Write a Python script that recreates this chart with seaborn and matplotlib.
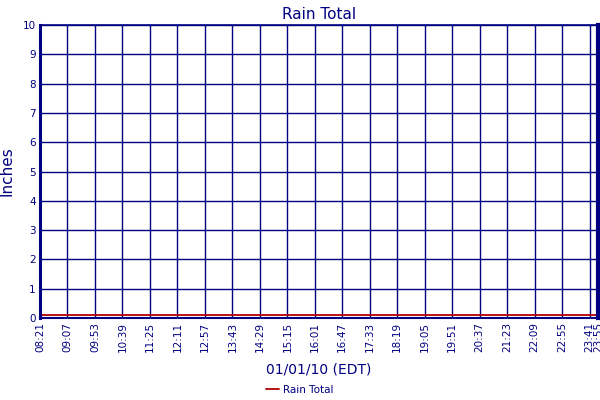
import pandas as pd
import seaborn as sns
import matplotlib.pyplot as plt
import matplotlib.dates as mdates

# data
times = ["2010-01-01 08:21", "2010-01-01 09:07", "2010-01-01 09:53", "2010-01-01 10:39",
         "2010-01-01 11:25", "2010-01-01 12:11", "2010-01-01 12:57", "2010-01-01 13:43",
         "2010-01-01 14:29", "2010-01-01 15:15", "2010-01-01 16:01", "2010-01-01 16:47",
         "2010-01-01 17:33", "2010-01-01 18:19", "2010-01-01 19:05", "2010-01-01 19:51",
         "2010-01-01 20:37", "2010-01-01 21:23", "2010-01-01 22:09", "2010-01-01 22:55",
         "2010-01-01 23:41", "2010-01-01 23:55"]
rain_total = [0.1] * len(times)
y_ticks = [0, 1, 2, 3, 4, 5, 6, 7, 8, 9, 10]

navy = "#000080"

df = pd.DataFrame({"time": pd.to_datetime(times), "Rain Total": rain_total})

sns.set_style("white")
plt.rcParams['font.family'] = ['DejaVu Sans']

fig = plt.figure(figsize=(6, 4), dpi=100)
ax = fig.add_axes([40 / 600, 82 / 400, 558 / 600, 293 / 400])

sns.lineplot(data=df, x="time", y="Rain Total", color="#b00000", linewidth=1.3,
             ax=ax, label="Rain Total", legend=False)

ax.set_xlim(df["time"].iloc[0], df["time"].iloc[-1])
ax.set_ylim(0, 10)
ax.set_yticks(y_ticks)
ax.set_xticks(df["time"])
ax.xaxis.set_major_formatter(mdates.DateFormatter("%H:%M"))
ax.grid(True, color=navy, linewidth=1.0)
ax.set_axisbelow(True)
ax.tick_params(axis="both", colors=navy, labelsize=7.5, length=0, pad=3)
ax.tick_params(axis="x", rotation=90)

for side, w in [("left", 2.2), ("right", 3), ("top", 1.2), ("bottom", 1.5)]:
    ax.spines[side].set_visible(True)
    ax.spines[side].set_color(navy)
    ax.spines[side].set_linewidth(w)

ax.set_title("Rain Total", color=navy, fontsize=11, pad=4)
ax.set_ylabel("Inches", color=navy, fontsize=11, labelpad=6)
ax.set_xlabel("01/01/10 (EDT)", color=navy, fontsize=10, labelpad=7)

handles, labels = ax.get_legend_handles_labels()
leg = fig.legend(handles, labels, loc="center", bbox_to_anchor=(0.5, 0.025), frameon=False,
                 fontsize=7.5, handlelength=1.2, handletextpad=0.4)
for t in leg.get_texts():
    t.set_color(navy)

fig.savefig("out.png", dpi=100)
